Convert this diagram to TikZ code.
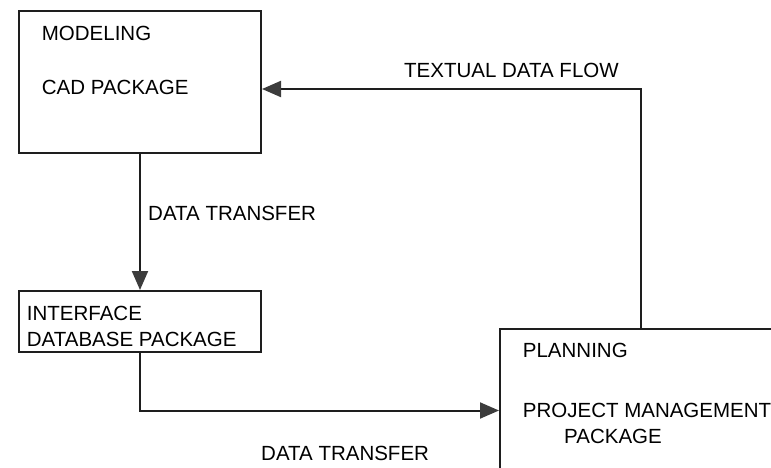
\documentclass[tikz,border=0pt]{standalone}
\usepackage{fontspec}
\setmainfont{Liberation Sans}
\usetikzlibrary{arrows.meta}
\definecolor{ink}{HTML}{1E1E1E}
\definecolor{headfill}{HTML}{3C3C3C}
\tikzset{
  boxnode/.style={draw=ink, line width=2pt, rectangle, inner sep=0pt},
  lbl/.style={anchor=base west, inner sep=0pt, text=black, font=\fontsize{20.5}{24}\selectfont},
  conn/.style={draw=ink, line width=2pt, -{Triangle[length=19pt,width=16pt,fill=headfill,color=headfill]}},
}
\begin{document}
\begin{tikzpicture}[x=1pt,y=-1pt]
\useasboundingbox (0,0) rectangle (771,468);
\clip (0,0) rectangle (771,468);
% boxes
\node[boxnode, minimum width=242pt, minimum height=142pt] (modeling) at (140,82) {};
\node[boxnode, minimum width=242pt, minimum height=61pt] (interface) at (140,321.5) {};
\node[boxnode, minimum width=300pt, minimum height=163pt] (planning) at (650,410.5) {};
% texts
\node[lbl] (t1) at (41.7,40.5) {MODELING};
\node[lbl] (t2) at (41.7,94.3) {CAD PACKAGE};
\node[lbl] (t3) at (26.7,320.7) {INTERFACE};
\node[lbl] (t4) at (26.7,346.7) {DATABASE PACKAGE};
\node[lbl] (t5) at (522.7,357.7) {PLANNING};
\node[lbl] (t6) at (522.7,417.3) {PROJECT MANAGEMENT};
\node[lbl] (t7) at (564,443.3) {PACKAGE};
\node[lbl] (dt1) at (148,220) {DATA TRANSFER};
\node[lbl] (dt2) at (261,460) {DATA TRANSFER};
\node[lbl] (tdf) at (404,77.3) {TEXTUAL DATA FLOW};
% connectors
\draw[conn] (modeling.south) -- (interface.north);
\draw[conn] (interface.south) |- (planning.west);
\draw[conn] ([xshift=-9pt]planning.north) |- ([yshift=-7pt]modeling.east);
\end{tikzpicture}
\end{document}
